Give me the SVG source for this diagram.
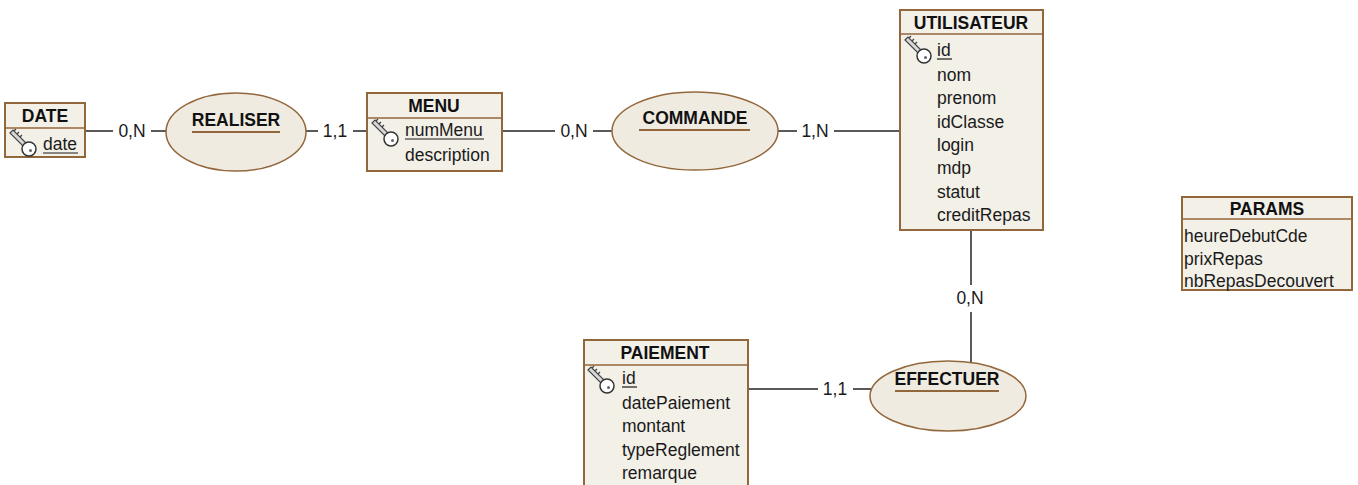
<svg xmlns="http://www.w3.org/2000/svg" width="1358" height="485" viewBox="0 0 1358 485">
<style>
.box{fill:#f3f0e8;stroke:#93673c;stroke-width:2}
.hdr{stroke:#93673c;stroke-width:1.6}
.ell{fill:#efebe1;stroke:#93673c;stroke-width:1.5}
.ttl{font-family:"Liberation Sans",Arial,sans-serif;font-size:17.5px;font-weight:bold;fill:#111;text-anchor:middle}
.att{font-family:"Liberation Sans",Arial,sans-serif;font-size:17.5px;fill:#1a1a1a}
.card{font-family:"Liberation Sans",Arial,sans-serif;font-size:17.5px;fill:#1a1a1a;text-anchor:middle}
.ul{stroke:#1a1a1a;stroke-width:1.2}
.rul{stroke:#93673c;stroke-width:2}
.ln{stroke:#222;stroke-width:1.5;fill:none}
</style>
<defs>
<g id="key">
<path d="M1,4 L4,1 L17,14 L14,17 Z" fill="#d8d8d8" stroke="#444" stroke-width="1.2"/>
<path d="M5,2 L7,0 M8,5 L10,3 M11,8 L13,6" stroke="#444" stroke-width="1.3"/>
<circle cx="20" cy="20" r="7" fill="#fff" stroke="#333" stroke-width="1.5"/>
<circle cx="21.5" cy="21.5" r="1.5" fill="#666"/>
</g>
</defs>

<g id="connectors">
<line class="ln" x1="85" y1="131" x2="113" y2="131"/>
<text class="card" x="132" y="137">0,N</text>
<line class="ln" x1="151" y1="131" x2="166" y2="131"/>
<line class="ln" x1="306" y1="131" x2="318" y2="131"/>
<text class="card" x="335" y="137">1,1</text>
<line class="ln" x1="353" y1="131" x2="367" y2="131"/>
<line class="ln" x1="502" y1="131" x2="555" y2="131"/>
<text class="card" x="574" y="137">0,N</text>
<line class="ln" x1="593" y1="131" x2="612" y2="131"/>
<line class="ln" x1="778" y1="131" x2="797" y2="131"/>
<text class="card" x="815" y="137">1,N</text>
<line class="ln" x1="834" y1="131" x2="900" y2="131"/>
<line class="ln" x1="971" y1="230" x2="971" y2="285"/>
<text class="card" x="970" y="304">0,N</text>
<line class="ln" x1="971" y1="312" x2="971" y2="363"/>
<line class="ln" x1="748" y1="389" x2="818" y2="389"/>
<text class="card" x="835" y="395">1,1</text>
<line class="ln" x1="853" y1="389" x2="871" y2="389"/>
</g>

<g id="DATE">
<rect class="box" x="5" y="103" width="80" height="54"/>
<line class="hdr" x1="5" y1="128" x2="85" y2="128"/>
<text class="ttl" x="45" y="122">DATE</text>
<use href="#key" x="9" y="129"/>
<text class="att" x="43" y="150">date</text>
<line class="ul" x1="43" y1="153" x2="78" y2="153"/>
</g>

<g id="REALISER">
<ellipse class="ell" cx="236" cy="132" rx="70" ry="39"/>
<text class="ttl" x="236" y="126">REALISER</text>
<line class="rul" x1="192" y1="132" x2="280" y2="132"/>
</g>

<g id="MENU">
<rect class="box" x="367" y="93" width="135" height="78"/>
<line class="hdr" x1="367" y1="118" x2="502" y2="118"/>
<text class="ttl" x="434" y="112">MENU</text>
<use href="#key" x="371" y="119"/>
<text class="att" x="405" y="136">numMenu</text>
<line class="ul" x1="405" y1="139" x2="484" y2="139"/>
<text class="att" x="405" y="161">description</text>
</g>

<g id="COMMANDE">
<ellipse class="ell" cx="695" cy="131" rx="83" ry="39"/>
<text class="ttl" x="695" y="124">COMMANDE</text>
<line class="rul" x1="639" y1="130" x2="750" y2="130"/>
</g>

<g id="UTILISATEUR">
<rect class="box" x="900" y="10" width="143" height="220"/>
<line class="hdr" x1="900" y1="34" x2="1043" y2="34"/>
<text class="ttl" x="971" y="29">UTILISATEUR</text>
<use href="#key" x="904" y="36"/>
<text class="att" x="937" y="56">id</text>
<line class="ul" x1="937" y1="59" x2="952" y2="59"/>
<text class="att" x="937" y="81">nom</text>
<text class="att" x="937" y="104">prenom</text>
<text class="att" x="937" y="128">idClasse</text>
<text class="att" x="937" y="151">login</text>
<text class="att" x="937" y="174">mdp</text>
<text class="att" x="937" y="198">statut</text>
<text class="att" x="937" y="221">creditRepas</text>
</g>

<g id="EFFECTUER">
<ellipse class="ell" cx="948" cy="396" rx="78" ry="35"/>
<text class="ttl" x="947" y="385">EFFECTUER</text>
<line class="rul" x1="895" y1="391" x2="999" y2="391"/>
</g>

<g id="PAIEMENT">
<rect class="box" x="584" y="340" width="164" height="160"/>
<line class="hdr" x1="584" y1="365" x2="748" y2="365"/>
<text class="ttl" x="665" y="359">PAIEMENT</text>
<use href="#key" x="587" y="366"/>
<text class="att" x="622" y="384">id</text>
<line class="ul" x1="622" y1="387" x2="637" y2="387"/>
<text class="att" x="622" y="409">datePaiement</text>
<text class="att" x="622" y="432">montant</text>
<text class="att" x="622" y="456">typeReglement</text>
<text class="att" x="622" y="479">remarque</text>
</g>

<g id="PARAMS">
<rect class="box" x="1182" y="197" width="170" height="93"/>
<line class="hdr" x1="1182" y1="219" x2="1352" y2="219"/>
<text class="ttl" x="1267" y="215">PARAMS</text>
<text class="att" x="1184" y="242">heureDebutCde</text>
<text class="att" x="1184" y="265">prixRepas</text>
<text class="att" x="1184" y="287">nbRepasDecouvert</text>
</g>
</svg>
